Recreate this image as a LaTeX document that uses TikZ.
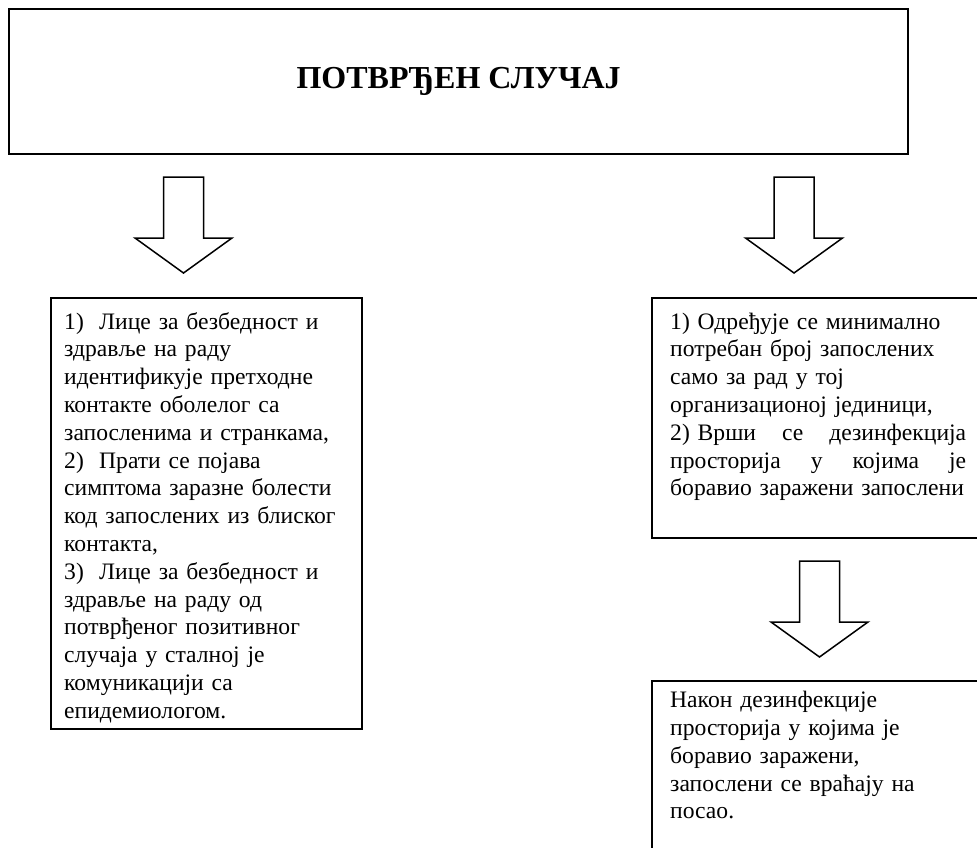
\documentclass[tikz,border=0pt]{standalone}
\usepackage{fontspec}
\setmainfont{Liberation Serif}
\tikzset{
  box/.style={draw, line width=1.8pt, inner sep=0pt, anchor=north west},
  txt/.style={anchor=north west, inner sep=0pt, text width=330pt, align=left,
              font=\fontsize{23.6}{27.8}\selectfont},
  arr/.style={draw, line width=1.5pt, line join=miter, fill=white},
  blockarrow/.pic={
    \draw[arr] (-20,0) -- (20,0) -- (20,61) -- (48.5,61) -- (0,96)
               -- (-48.5,61) -- (-20,61) -- cycle;
  }
}
\newcommand{\jline}[1]{\makebox[296pt][l]{#1}}
\newcommand{\numgap}{\hspace{0.65em}}
\begin{document}
\begin{tikzpicture}[x=1pt,y=-1pt]
\useasboundingbox (0,0) rectangle (977,847);
\clip (0,0) rectangle (977,847);
\fill[white] (0,0) rectangle (977,847);

% top box
\node[box, line width=2.2pt, minimum width=899pt, minimum height=145pt,
      font=\bfseries\fontsize{32}{36}\selectfont] (top) at (8,8) {ПОТВРЂЕН СЛУЧАЈ};

% arrows
\coordinate (a1) at (183.5,177);
\coordinate (a2) at (794,177);
\coordinate (a3) at (819.5,561);
\pic at (a1) {blockarrow};
\pic at (a2) {blockarrow};
\pic at (a3) {blockarrow};

% left box
\node[box, minimum width=311pt, minimum height=431pt] (lbox) at (50,297) {};
\node[txt] (ltext) at ([shift={(14,12.5)}]lbox.north west) {\strut
1)\numgap Лице за безбедност и\\
здравље на раду\\
идентификује претходне\\
контакте оболелог са\\
запосленима и странкама,\\
2)\numgap Прати се појава\\
симптома заразне болести\\
код запослених из блиског\\
контакта,\\
3)\numgap Лице за безбедност и\\
здравље на раду од\\
потврђеног позитивног\\
случаја у сталној је\\
комуникацији са\\
епидемиологом.};

% right box 1
\node[box, minimum width=345pt, minimum height=240pt] (rbox) at (651,297) {};
\node[txt] (rtext) at ([shift={(19,12.5)}]rbox.north west) {\strut
1) Одређује се минимално\\
потребан број запослених\\
само за рад у тој\\
организационој јединици,\\
\jline{2) Врши\hfill се\hfill дезинфекција}\\
\jline{просторија\hfill у\hfill којима\hfill је}\\
боравио заражени запослени};

% right box 2
\node[box, minimum width=345pt, minimum height=200pt] (bbox) at (651,680) {};
\node[txt] (btext) at ([shift={(19,8)}]bbox.north west) {\strut
Након дезинфекције\\
просторија у којима је\\
боравио заражени,\\
запослени се враћају на\\
посао.};
\end{tikzpicture}
\end{document}
